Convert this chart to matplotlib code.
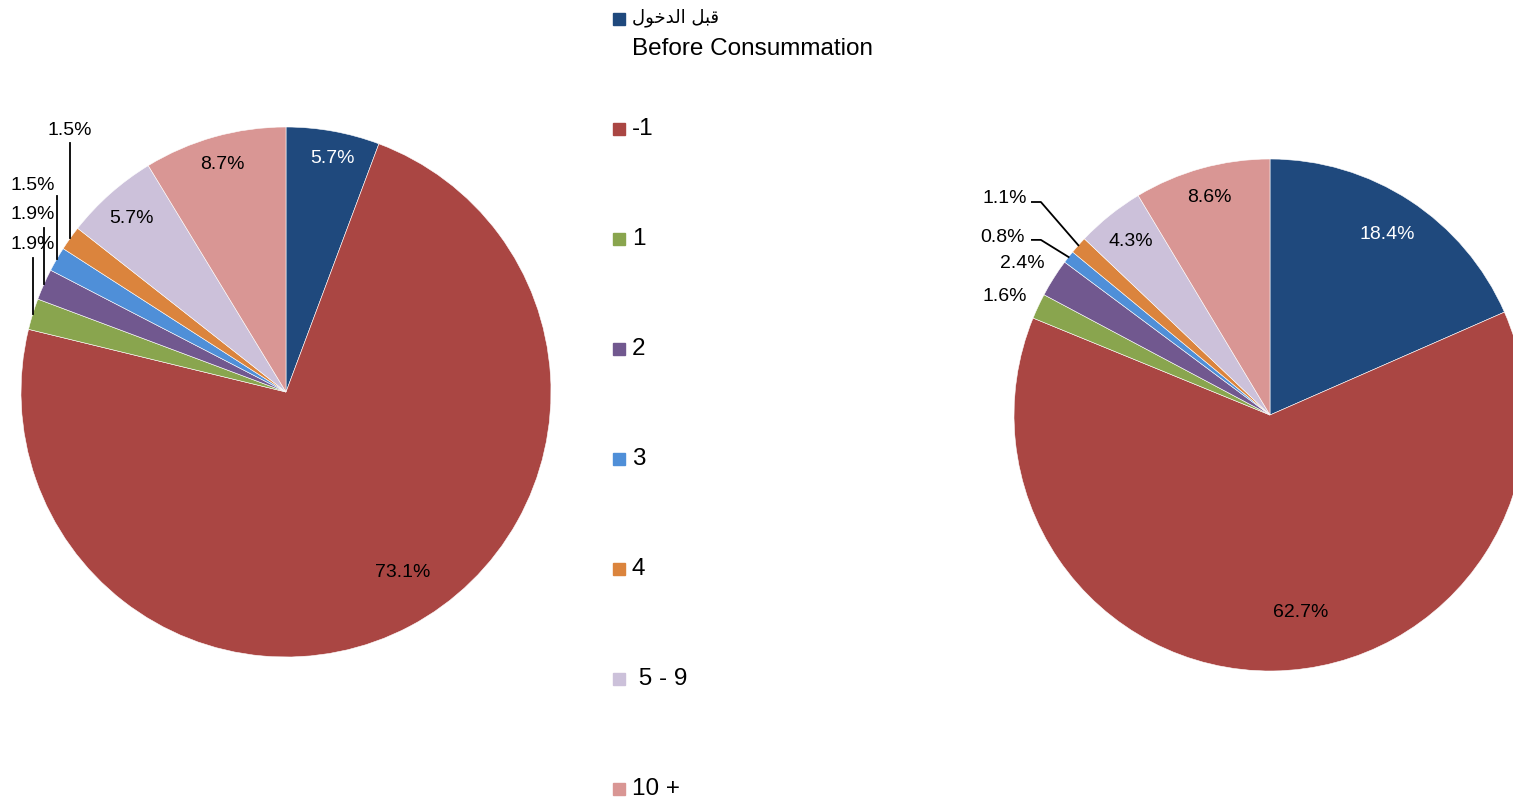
import numpy as np
import matplotlib
matplotlib.use('Agg')
import matplotlib.pyplot as plt
from matplotlib.patches import Rectangle

plt.rcParams['font.family'] = ['Liberation Sans', 'DejaVu Sans']

# data
categories = ['Before Consummation', '-1', '1', '2', '3', '4', ' 5 - 9', '10 +']
left_values = [5.7, 73.1, 1.9, 1.9, 1.5, 1.5, 5.7, 8.7]
right_values = [18.4, 62.7, 1.6, 2.4, 0.8, 1.1, 4.3, 8.6]
colors = ['#1F497D', '#AA4643', '#89A54E', '#71588F', '#4F8FD8', '#DB843D', '#CCC1DA', '#D99694']

# Arabic "قبل الدخول" in shaped presentation forms, visual order
arabic = '\uFEDD\uFEEE\uFEA7\uFEAA\uFEDF\uFE8D \uFEDE\uFE92\uFED7'

W, H = 1513, 798
LBL = 14
fig = plt.figure(figsize=(W / 100, H / 100), dpi=100)


def pie_axes(cx, cy, r):
    # pixel centre/radius -> figure fraction axes
    return fig.add_axes([(cx - r) / W, (H - cy - r) / H, 2 * r / W, 2 * r / H])


def draw_pie(ax, values):
    wedges, _ = ax.pie(values, colors=colors, startangle=90, counterclock=False,
                       wedgeprops=dict(edgecolor='white', linewidth=0.4))
    ax.set_xlim(-1, 1)
    ax.set_ylim(-1, 1)
    ax.set_aspect('equal')
    ax.axis('off')
    mids = [np.deg2rad((w.theta1 + w.theta2) / 2) for w in wedges]
    return mids


# ---- left pie
axl = pie_axes(286, 392, 265)
mids = draw_pie(axl, left_values)
# labels inside the big slices: (index, distance, angle tweak in deg)
for i, d, da in [(0, 0.90, -1), (1, 0.81, 5), (6, 0.876, 0), (7, 0.89, 0)]:
    a = mids[i] + np.deg2rad(da)
    axl.text(d * np.cos(a), d * np.sin(a), f'{left_values[i]}%', ha='center', va='center',
             fontsize=LBL, color='white' if i == 0 else 'black')
# small slices with vertical leaders: (index, label x, label y, leader top y)
for i, lx, ly, ty in [(2, -0.955, 0.555, 0.506), (3, -0.955, 0.668, 0.619),
                      (4, -0.955, 0.781, 0.740), (5, -0.815, 0.985, 0.940)]:
    ex, ey = np.cos(mids[i]), np.sin(mids[i])
    axl.text(lx, ly, f'{left_values[i]}%', ha='center', va='center', fontsize=LBL)
    axl.plot([ex, ex], [ty, ey], color='black', lw=1.3, clip_on=False)

# ---- right pie
axr = pie_axes(1270, 415, 256)
mids = draw_pie(axr, right_values)
for i, d, da in [(0, 0.84, 0), (1, 0.78, 8), (6, 0.87, 0), (7, 0.88, 0)]:
    a = mids[i] + np.deg2rad(da)
    axr.text(d * np.cos(a), d * np.sin(a), f'{right_values[i]}%', ha='center', va='center',
             fontsize=LBL, color='white' if i == 0 else 'black')
for i in [2, 3]:
    a = mids[i] + np.deg2rad(1)
    axr.text(1.135 * np.cos(a), 1.135 * np.sin(a), f'{right_values[i]}%', ha='center', va='center',
             fontsize=LBL)
# leaders with a short horizontal run: (index, label x, label y, line y)
for i, lx, ly, yy in [(5, -1.035, 0.844, 0.832), (4, -1.043, 0.695, 0.684)]:
    ex, ey = np.cos(mids[i]), np.sin(mids[i])
    axr.text(lx, ly, f'{right_values[i]}%', ha='center', va='center', fontsize=LBL)
    axr.plot([-0.930, -0.895, ex], [yy, yy, ey], color='black', lw=1.3, clip_on=False)

# ---- legend in pixel coords
axg = fig.add_axes([0, 0, 1, 1])
axg.set_xlim(0, W)
axg.set_ylim(H, 0)
axg.axis('off')
for k, (lab, c) in enumerate(zip(categories, colors)):
    y = 19 + 110 * k
    axg.add_patch(Rectangle((613, y - 6), 12, 12, color=c))
    if k == 0:
        axg.text(632, y - 1, arabic, family=['DejaVu Sans'], fontsize=13, va='center', ha='left')
        axg.text(632, y + 30, lab, fontsize=17.5, va='center', ha='left')
    else:
        axg.text(632, y, lab, fontsize=17.5, va='center', ha='left')

fig.savefig('out.png', dpi=100)
